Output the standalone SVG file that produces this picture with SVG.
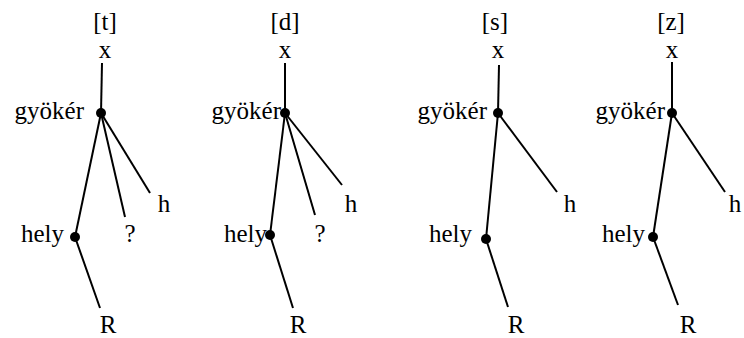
<svg xmlns="http://www.w3.org/2000/svg" width="744" height="338" viewBox="0 0 744 338">
<style>
text{font-family:"Liberation Serif","Times New Roman",serif;font-size:25px;fill:#000}
.m{text-anchor:middle}
.e{text-anchor:end}
line{stroke:#000;stroke-width:2}
circle{fill:#000}
</style>
<rect width="744" height="338" fill="#fff"/>
<g id="connectors">
<line x1="102" y1="63" x2="101" y2="113"/>
<line x1="101" y1="113" x2="75" y2="237"/>
<line x1="101" y1="113" x2="125" y2="217"/>
<line x1="101" y1="113" x2="150" y2="193"/>
<line x1="75" y1="237" x2="100" y2="308"/>
<line x1="285" y1="63" x2="285" y2="113"/>
<line x1="285" y1="113" x2="270" y2="235"/>
<line x1="285" y1="113" x2="315" y2="215"/>
<line x1="285" y1="113" x2="342" y2="185"/>
<line x1="270" y1="235" x2="293" y2="308"/>
<line x1="499" y1="65" x2="498" y2="113"/>
<line x1="498" y1="113" x2="486" y2="239"/>
<line x1="498" y1="113" x2="557" y2="192"/>
<line x1="486" y1="239" x2="508" y2="307"/>
<line x1="672" y1="62" x2="672" y2="113"/>
<line x1="672" y1="113" x2="653" y2="237"/>
<line x1="672" y1="113" x2="725" y2="192"/>
<line x1="653" y1="237" x2="678" y2="305"/>
</g>
<g id="tree-t">
<text class="m" x="105" y="30">[t]</text>
<text class="m" x="105" y="58">x</text>
<g id="t-gyoker"><circle cx="101" cy="113" r="5"/><text class="e" x="84" y="119">gyökér</text></g>
<g id="t-hely"><circle cx="75" cy="237" r="5"/><text class="e" x="64" y="242">hely</text></g>
<text class="m" x="130" y="242">?</text>
<text class="m" x="164" y="212">h</text>
<text class="m" x="108" y="333">R</text>
</g>
<g id="tree-d">
<text class="m" x="285" y="30">[d]</text>
<text class="m" x="285" y="58">x</text>
<g id="d-gyoker"><circle cx="285" cy="113" r="5"/><text class="e" x="281" y="119">gyökér</text></g>
<g id="d-hely"><circle cx="270" cy="235" r="5"/><text class="e" x="267" y="242">hely</text></g>
<text class="m" x="320" y="242">?</text>
<text class="m" x="351" y="212">h</text>
<text class="m" x="298" y="333">R</text>
</g>
<g id="tree-s">
<text class="m" x="495" y="30">[s]</text>
<text class="m" x="498" y="58">x</text>
<g id="s-gyoker"><circle cx="498" cy="113" r="5"/><text class="e" x="487" y="119">gyökér</text></g>
<g id="s-hely"><circle cx="486" cy="239" r="5"/><text class="e" x="472" y="242">hely</text></g>
<text class="m" x="570" y="212">h</text>
<text class="m" x="516" y="333">R</text>
</g>
<g id="tree-z">
<text class="m" x="671" y="30">[z]</text>
<text class="m" x="672" y="58">x</text>
<g id="z-gyoker"><circle cx="672" cy="113" r="5"/><text class="e" x="665" y="119">gyökér</text></g>
<g id="z-hely"><circle cx="653" cy="237" r="5"/><text class="e" x="645" y="242">hely</text></g>
<text class="m" x="735" y="212">h</text>
<text class="m" x="688" y="333">R</text>
</g>
</svg>
